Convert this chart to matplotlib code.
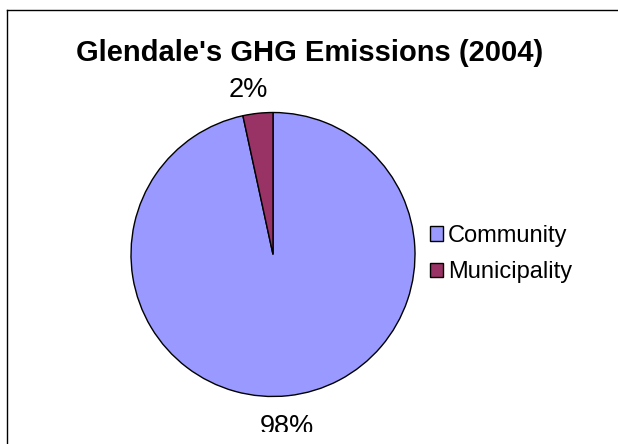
import matplotlib
matplotlib.use("Agg")
import matplotlib.pyplot as plt
from matplotlib.patches import Patch
from matplotlib.lines import Line2D
from matplotlib.transforms import Bbox, TransformedBbox

categories = ["Community", "Municipality"]
values = [96.6, 3.4]
pct_labels = ["98%", "2%"]
colors = ["#9999FF", "#993366"]
title = "Glendale's GHG Emissions (2004)"

plt.rcParams['font.family'] = ['Liberation Sans', 'DejaVu Sans']

W, H = 618, 444
fig = plt.figure(figsize=(W / 100, H / 100), dpi=100)

# border (top and left lines)
fig.add_artist(Line2D([7 / W, 7 / W], [0, 1 - 10 / H], color="black", lw=1))
fig.add_artist(Line2D([7 / W, 1], [1 - 10 / H, 1 - 10 / H], color="black", lw=1))

cx, cy, r = 273, 254.5, 142
half = r * 1.25
ax = fig.add_axes([(cx - half) / W, (H - cy - half) / H, 2 * half / W, 2 * half / H])
wedges, _ = ax.pie(values, colors=colors, startangle=90, counterclock=False,
                   wedgeprops=dict(edgecolor="black", linewidth=1))
ax.set_xlim(-1.25, 1.25)
ax.set_ylim(-1.25, 1.25)

fig.text(310 / W, 1 - 61 / H, title, ha="center", va="baseline",
         fontsize=21, fontweight="bold")
fig.text(248.5 / W, 1 - 97 / H, pct_labels[1], ha="center", va="baseline", fontsize=19.5)
t98 = fig.text(286.5 / W, 1 - 434 / H, pct_labels[0], ha="center", va="baseline",
               fontsize=19.5)
t98.set_clip_box(TransformedBbox(Bbox([[0, 12.5 / H], [1, 1]]), fig.transFigure))
t98.set_clip_on(True)

handles = [Patch(facecolor=c, edgecolor="black", linewidth=1) for c in colors]
fig.legend(handles, categories, loc="center left",
           bbox_to_anchor=(430 / W, 1 - 254 / H), frameon=False,
           fontsize=17, handlelength=0.55, handleheight=0.55,
           handletextpad=0.22, labelspacing=0.6, borderpad=0, borderaxespad=0)

fig.savefig("out.png", dpi=100)
